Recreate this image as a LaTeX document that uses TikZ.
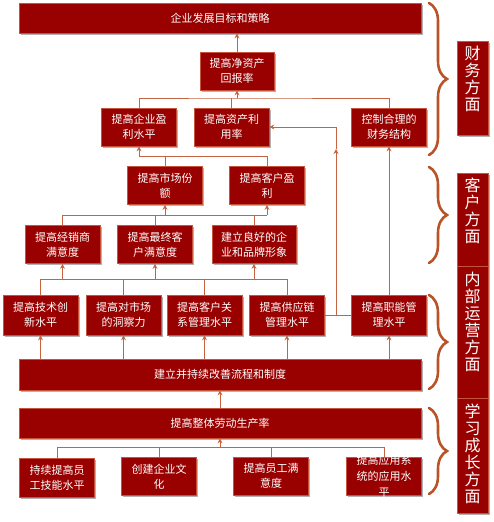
\documentclass[tikz,border=0pt]{standalone}
\usepackage{fontspec}
\setmainfont{Noto Sans CJK SC}
\usepackage{tikz}
\usetikzlibrary{arrows.meta,positioning,shadows,decorations.pathreplacing}
\definecolor{boxred}{RGB}{153,0,0}
\definecolor{boxedge}{RGB}{196,84,60}
\definecolor{linkcol}{RGB}{196,100,66}
\definecolor{bracecol}{RGB}{186,84,40}

\begin{document}
\begin{tikzpicture}[
  x=1pt, y=-1pt,
  box/.style={draw=boxedge, line width=0.6pt, fill=boxred, text=white, align=center,
              inner sep=0pt, minimum width=75pt, minimum height=38pt,
              font=\fontsize{11pt}{15pt}\selectfont,
              drop shadow={shadow xshift=1.5pt, shadow yshift=-1.5pt, opacity=0.3, fill=black}},
  widebar/.style={box, minimum width=402pt, minimum height=30pt},
  side/.style={box, minimum width=31pt},
  boxtext/.style={text=white, align=center, inner sep=0pt, font=\fontsize{11pt}{16pt}\selectfont},
  sidetext/.style={text=white, align=center, inner sep=0pt, font=\fontsize{16pt}{17pt}\selectfont},
  link/.style={draw=linkcol, line width=1pt},
  arrow/.style={link, -{Stealth[length=5pt, width=5pt]}},
  sidebrace/.style={draw=bracecol, line width=2.6pt, line cap=round, decorate,
                    decoration={brace, amplitude=18pt}}
]
\useasboundingbox (0,0) rectangle (493,522);

\node[widebar] (goal) at (220,18) {企业发展目标和策略};
\node[box, minimum width=74pt] (roe) at (237,71) {提高净资产\\回报率};
\node[box] (profit) at (139,127) {提高企业盈\\利水平};
\node[box] (assetuse) at (231.5,127) {提高资产利\\用率};
\node[box] (capital) at (389,127) {控制合理的\\财务结构};
\node[box] (share) at (165,185.5) {提高市场份\\额};
\node[box] (custprofit) at (267,185.5) {提高客户盈\\利};
\node[box] (dealer) at (62.5,244.5) {提高经销商\\满意度};
\node[box] (enduser) at (155,244.5) {提高最终客\\户满意度};
\node[box, minimum width=84pt] (brand) at (254,244.5) {建立良好的企\\业和品牌形象};
\node[box, minimum height=40pt] (tech) at (40.5,315) {提高技术创\\新水平};
\node[box, minimum height=40pt] (insight) at (123.5,315) {提高对市场\\的洞察力};
\node[box, minimum height=40pt] (crm) at (204.5,315) {提高客户关\\系管理水平};
\node[box, minimum height=40pt] (supply) at (287,315) {提高供应链\\管理水平};
\node[box, minimum height=40pt] (func) at (389,315) {提高职能管\\理水平};
\node[widebar, minimum height=31pt] (process) at (220,374.5) {建立并持续改善流程和制度};
\node[widebar] (labour) at (220,423) {提高整体劳动生产率};
\node[box, minimum height=39pt] (skill) at (57,477.5) {持续提高员\\工技能水平};
\node[box] (culture) at (159,476.5) {创建企业文\\化};
\node[box] (satisfy) at (271,476) {提高员工满\\意度};
\node[box, label={[boxtext]center:{提高应用系\\统的应用水\\平}}] (system) at (384,476) {};

\node[side, minimum height=94pt] (finance) at (472.5,88) {};
\node[sidetext, below=5pt of finance.north] (financetext) {财\\务\\方\\面};
\node[side, minimum height=93pt] (customer) at (472.5,219.5) {};
\node[sidetext, below=5pt of customer.north] (customertext) {客\\户\\方\\面};
\node[side, minimum height=132pt] (internal) at (472.5,332) {};
\node[sidetext, below=6pt of internal.north] (internaltext) {内\\部\\运\\营\\方\\面};
\node[side, minimum height=115pt] (learning) at (472.5,455.5) {};
\node[sidetext, below=6pt of learning.north] (learningtext) {学\\习\\成\\长\\方\\面};

\coordinate (finbus) at (237,98);
\draw[link] (profit.north) |- (finbus) -| (capital.north);
\draw[link] (assetuse.north) -- (assetuse.north |- finbus);
\draw[arrow] (finbus) -- (roe.south);
\draw[arrow] (roe.north) -- (roe.north |- goal.south);

\coordinate (custbus) at (139,156);
\draw[link] (custprofit.north) |- (custbus);
\draw[link] (share.north) -- (share.north |- custbus);
\draw[arrow] (custbus) -- (profit.south);

\coordinate (mktbus) at (267,215);
\draw[link] (dealer.north) |- (mktbus);
\draw[link] (enduser.north) -- (enduser.north |- mktbus);
\draw[link] (brand.north) -- (brand.north |- mktbus);
\draw[arrow] (share.south |- mktbus) -- (share.south);
\draw[arrow] (mktbus) -- (custprofit.south);

\coordinate (opsbus) at (287,279);
\draw[link] (tech.north) |- (opsbus) -- (supply.north);
\foreach \n in {insight,crm}
  \draw[link] (\n.north) -- (\n.north |- opsbus);
\foreach \n in {dealer,enduser,brand}
  \draw[arrow] (\n.south |- opsbus) -- (\n.south);

\foreach \n in {tech,insight,crm,supply,func}
  \draw[arrow] (\n.south |- process.north) -- (\n.south);
\draw[arrow] (func.north) -- (capital.south);

\coordinate (assetjoin) at (336,315);
\coordinate (assetup) at (336,149);
\draw[link] (supply.east) -- (func.west);
\draw[arrow] (assetjoin) -- (assetup);
\draw[arrow] (assetup) |- (assetuse.east);

\draw[arrow] (labour.north) -- (process.south);
\coordinate (learnbus) at (384,447);
\draw[link] (skill.north) |- (learnbus) -- (system.north);
\foreach \n in {culture,satisfy}
  \draw[link] (\n.north) -- (\n.north |- learnbus);
\draw[arrow] (labour.south |- learnbus) -- (labour.south);

\draw[sidebrace] (429,3) -- (429,155);
\draw[sidebrace] (429,167) -- (429,263);
\draw[sidebrace] (429,295) -- (429,389);
\draw[sidebrace] (429,408) -- (429,494);
\end{tikzpicture}
\end{document}
